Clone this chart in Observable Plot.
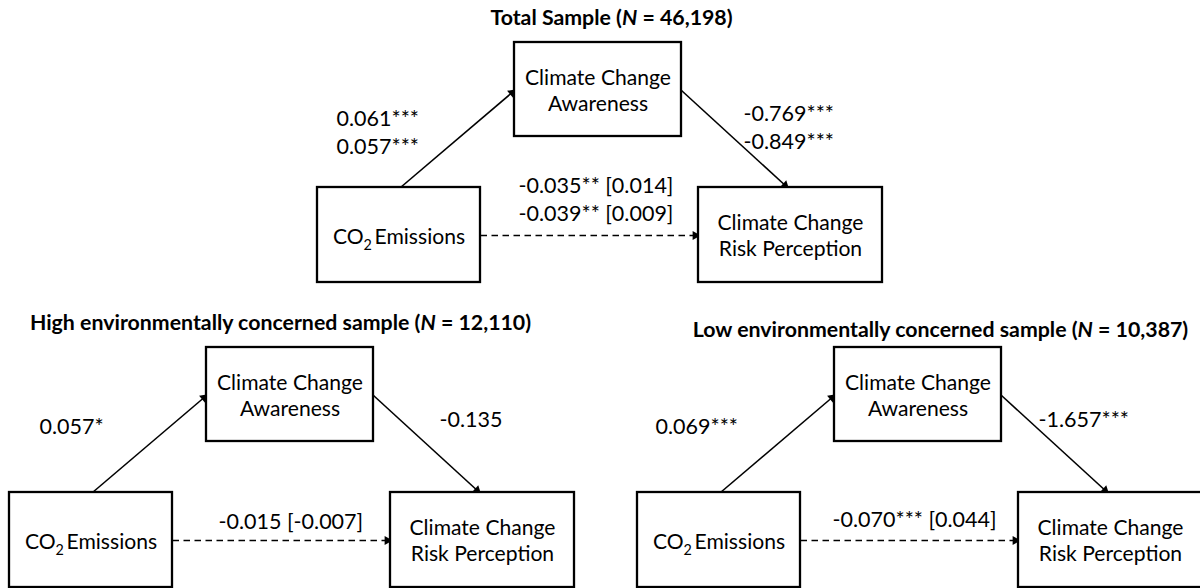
<!DOCTYPE html>
<html>
<head>
<meta charset="utf-8">
<script src="https://cdn.jsdelivr.net/npm/d3@7"></script>
<script src="https://cdn.jsdelivr.net/npm/@observablehq/plot@0.6"></script>
<style>
  html, body { margin: 0; padding: 0; background: #fff; }
  #chart svg { display: block; }
</style>
</head>
<body>
<div id="chart"></div>
<script>
// ---------------- data ----------------
const panelTitles = ["Total Sample", "High environmentally concerned sample", "Low environmentally concerned sample"];
const sampleN = ["46,198", "12,110", "10,387"];
const nodeNames = ["CO2 Emissions", "Climate Change\nAwareness", "Climate Change\nRisk Perception"];
// path a: CO2 -> Awareness ; path b: Awareness -> Risk ; path c': CO2 -> Risk [indirect]
const pathA = [["0.061***", "0.057***"], ["0.057*"], ["0.069***"]];
const pathB = [["-0.769***", "-0.849***"], ["-0.135"], ["-1.657***"]];
const pathC = [["-0.035** [0.014]", "-0.039** [0.009]"], ["-0.015 [-0.007]"], ["-0.070*** [0.044]"]];

// ---------------- layout (pixel frame of the diagram) ----------------
const W = 1200, H = 588;
const panelOrigin = [[317, 42], [9, 347], [637, 347]];
const nodeBox = [[0, 145, 163, 240], [197, 0, 364, 94], [381, 145, 565, 240]];
const titleAt = [[294, -24], [271, -24], [303, -17]];
const labelA = [[19, 89], [30, 78], [18, 78]];
const labelB = [[426, 84], [430, 71], [401, 71]];
const labelC = [[201, 156], [209, 173], [195, 171]];
const arrowA = [83, 145, 197, 48];
const arrowB = [364, 48, 470, 145];
const arrowC = [163, 193, 381, 193];

// font fitting (Calibri substitute)
const FONT = "Lato, 'Open Sans', 'Noto Sans', sans-serif";
const ctx = document.createElement("canvas").getContext("2d");
function fit(text, target, weight) {
  ctx.font = `${weight} 100px Lato`;
  return 100 * target / ctx.measureText(text).width;
}
const boxFont = fit("Climate Change", 146, "normal");
const labFont = fit("-0.035** [0.014]", 155, "normal");
const titleFont = fit("High environmentally concerned sample (N = 12,110)", 503, "bold");

// ---------------- build tables ----------------
const boxes = [], nodeText = [], labels = [], titles = [], arrows = [];
panelTitles.forEach((t, p) => {
  const [ox, oy] = panelOrigin[p];
  nodeNames.forEach((name, k) => {
    const [x1, y1, x2, y2] = nodeBox[k];
    boxes.push({x1: ox + x1, y1: oy + y1, x2: ox + x2, y2: oy + y2});
    nodeText.push({x: ox + (x1 + x2) / 2, y: oy + (y1 + y2) / 2 + (k === 0 ? 1 : 0), text: name});
  });
  titles.push({x: ox + titleAt[p][0], y: oy + titleAt[p][1], text: `${t} (N = ${sampleN[p]})`});
  [[pathA, labelA], [pathB, labelB], [pathC, labelC]].forEach(([vals, pos]) => {
    labels.push({x: ox + pos[p][0], y: oy + pos[p][1], text: vals[p].join("\n")});
  });
  [[arrowA, false], [arrowB, false], [arrowC, true]].forEach(([a, dashed]) => {
    arrows.push({x1: ox + a[0], y1: oy + a[1], x2: ox + a[2], y2: oy + a[3], dashed});
  });
});
// arrowheads: filled triangles just before each end point
const heads = arrows.map(a => {
  const dx = a.x2 - a.x1, dy = a.y2 - a.y1, L = Math.hypot(dx, dy);
  return {x: a.x2 - 3.2 * dx / L, y: a.y2 - 3.2 * dy / L, rotate: Math.atan2(dx, -dy) * 180 / Math.PI};
});

const chart = Plot.plot({
  width: W, height: H,
  margin: 0,
  x: {domain: [0, W], range: [0, W], axis: null},
  y: {domain: [0, H], range: [0, H], axis: null},
  style: {fontFamily: FONT, background: "#fff"},
  marks: [
    Plot.link(arrows.filter(d => !d.dashed), {x1: "x1", y1: "y1", x2: "x2", y2: "y2", stroke: "#000", strokeWidth: 1.6}),
    Plot.link(arrows.filter(d => d.dashed), {x1: "x1", y1: "y1", x2: "x2", y2: "y2", stroke: "#000", strokeWidth: 1.7, strokeDasharray: "6.5,4.5"}),
    Plot.dot(heads, {x: "x", y: "y", rotate: "rotate", symbol: "triangle", r: 3.4, fill: "#000", stroke: "none"}),
    Plot.rect(boxes, {x1: "x1", y1: "y1", x2: "x2", y2: "y2", fill: "#fff", stroke: "#000", strokeWidth: 2.3}),
    Plot.text(nodeText, {x: "x", y: "y", text: "text", fontSize: boxFont, lineHeight: 1.22, lineAnchor: "middle", fill: "#000"}),
    Plot.text(labels, {x: "x", y: "y", text: "text", textAnchor: "start", fontSize: labFont, lineHeight: 1.3, lineAnchor: "middle", fill: "#000"}),
    Plot.text(titles, {x: "x", y: "y", text: "text", fontSize: titleFont, fontWeight: "bold", lineAnchor: "middle", fill: "#000"})
  ]
});
document.getElementById("chart").appendChild(chart);

// subscript in CO2, italic N in titles
d3.select(chart).selectAll("text").each(function () {
  const el = d3.select(this);
  if (this.textContent === "CO2 Emissions") {
    el.text(null);
    el.append("tspan").text("CO");
    el.append("tspan").attr("dy", boxFont * 0.28).attr("font-size", boxFont * 0.68).text("2");
    el.append("tspan").attr("dy", -boxFont * 0.28).text("\u2009Emissions");
  } else if (/\(N = /.test(this.textContent)) {
    const [pre, post] = this.textContent.split("(N");
    el.text(null);
    el.append("tspan").text(pre + "(");
    el.append("tspan").attr("font-style", "italic").text("N");
    el.append("tspan").text(post);
  }
});
</script>
</body>
</html>
